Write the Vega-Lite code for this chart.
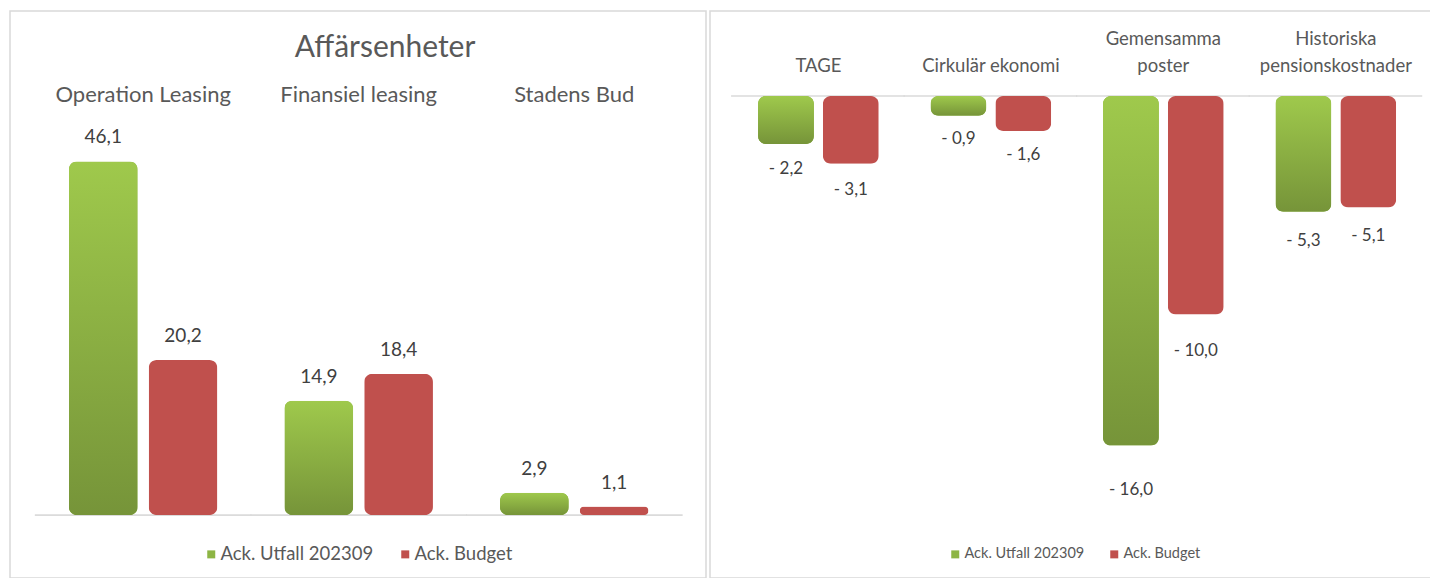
{
  "$schema": "https://vega.github.io/schema/vega-lite/v6.json",
  "padding": {"left": 9, "top": 10, "right": 0, "bottom": 0},
  "spacing": 2,
  "datasets": {
    "affar": [
      {"enhet": "Operation Leasing", "serie": "Ack. Utfall 202309", "value": 46.1},
      {"enhet": "Operation Leasing", "serie": "Ack. Budget", "value": 20.2},
      {"enhet": "Finansiel leasing", "serie": "Ack. Utfall 202309", "value": 14.9},
      {"enhet": "Finansiel leasing", "serie": "Ack. Budget", "value": 18.4},
      {"enhet": "Stadens Bud", "serie": "Ack. Utfall 202309", "value": 2.9},
      {"enhet": "Stadens Bud", "serie": "Ack. Budget", "value": 1.1}
    ],
    "ovrigt": [
      {"enhet": "TAGE", "serie": "Ack. Utfall 202309", "value": -2.2},
      {"enhet": "TAGE", "serie": "Ack. Budget", "value": -3.1},
      {"enhet": "Cirkulär ekonomi", "serie": "Ack. Utfall 202309", "value": -0.9},
      {"enhet": "Cirkulär ekonomi", "serie": "Ack. Budget", "value": -1.6},
      {"enhet": "Gemensamma poster", "serie": "Ack. Utfall 202309", "value": -16.0},
      {"enhet": "Gemensamma poster", "serie": "Ack. Budget", "value": -10.0},
      {"enhet": "Historiska pensionskostnader", "serie": "Ack. Utfall 202309", "value": -5.3},
      {"enhet": "Historiska pensionskostnader", "serie": "Ack. Budget", "value": -5.1}
    ]
  },
  "hconcat": [
    {
      "width": 696,
      "height": 567,
      "title": {"text": "Affärsenheter", "fontSize": 30, "fontWeight": "normal", "color": "#595959", "font": "Lato", "baseline": "alphabetic", "offset": -76, "dx": 27, "anchor": "middle"},
      "data": {"name": "affar"},
      "encoding": {
        "x": {
          "field": "enhet", "type": "nominal",
          "sort": ["Operation Leasing", "Finansiel leasing", "Stadens Bud"],
          "scale": {"paddingInner": 0.311, "paddingOuter": 0.27, "align": 0.506},
          "axis": {"orient": "top", "offset": -100, "title": null, "domain": false, "ticks": false, "grid": false, "labelPadding": 5, "labelFontSize": 22, "labelColor": "#595959", "labelFont": "Lato", "labelAngle": 0}
        },
        "y": {"field": "value", "type": "quantitative", "scale": {"domain": [-8.21, 65.71], "nice": false, "zero": false}, "axis": null}
      },
      "layer": [
        {
          "mark": {"type": "rule", "color": "#d9d9d9", "strokeWidth": 1.2},
          "encoding": {
            "x": {"field": "enhet", "type": "nominal", "bandPosition": -0.229},
            "x2": {"field": "enhet", "bandPosition": 1.229},
            "y": {"datum": 0, "type": "quantitative"}
          }
        },
        {
          "mark": {"type": "bar", "cornerRadius": 8},
          "encoding": {
            "xOffset": {"field": "serie", "type": "nominal", "sort": ["Ack. Utfall 202309", "Ack. Budget"], "scale": {"paddingInner": 0.138, "paddingOuter": 0}},
            "color": {
              "field": "serie", "type": "nominal", "sort": ["Ack. Utfall 202309", "Ack. Budget"],
              "scale": {"domain": ["Ack. Utfall 202309", "Ack. Budget"], "range": ["#8db544", "#c0504d"]},
              "legend": {"orient": "none", "legendX": 192, "legendY": 534, "direction": "horizontal", "title": null, "symbolType": "square", "symbolSize": 64, "symbolStrokeWidth": 0, "labelFontSize": 18.5, "labelFont": "Lato", "labelColor": "#595959", "columnPadding": 22, "labelOffset": 0}
            }
          }
        },
        {
          "transform": [{"filter": "datum.serie === 'Ack. Utfall 202309'"}],
          "mark": {"type": "bar", "cornerRadius": 8, "fill": {"gradient": "linear", "x1": 0, "y1": 0, "x2": 0, "y2": 1, "stops": [{"offset": 0, "color": "#9fc94c"}, {"offset": 1, "color": "#769439"}]}},
          "encoding": {
            "xOffset": {"field": "serie", "type": "nominal", "sort": ["Ack. Utfall 202309", "Ack. Budget"]}
          }
        },
        {
          "mark": {"type": "text", "baseline": "middle", "dy": -24, "fontSize": 19, "color": "#404040", "font": "Lato"},
          "encoding": {
            "xOffset": {"field": "serie", "type": "nominal", "sort": ["Ack. Utfall 202309", "Ack. Budget"]},
            "text": {"field": "value", "type": "quantitative", "format": ".1f"}
          }
        }
      ]
    },
    {
      "width": 722,
      "height": 567,
      "data": {"name": "ovrigt"},
      "encoding": {
        "x": {
          "field": "enhet", "type": "nominal",
          "sort": ["TAGE", "Cirkulär ekonomi", "Gemensamma poster", "Historiska pensionskostnader"],
          "scale": {"paddingInner": 0.30, "paddingOuter": 0.243, "align": 0.573},
          "axis": {"orient": "top", "offset": -85, "title": null, "domain": false, "ticks": false, "grid": false, "labelPadding": 48, "labelFontSize": 18.5, "labelColor": "#595959", "labelFont": "Lato", "labelAngle": 0, "labelLineHeight": 27,
            "labelExpr": "datum.label == 'Gemensamma poster' ? ['Gemensamma', 'poster'] : datum.label == 'Historiska pensionskostnader' ? ['Historiska', 'pensionskostnader'] : ['', datum.label]"}
        }
      },
      "layer": [
        {
          "mark": {"type": "rule", "color": "#d9d9d9", "strokeWidth": 1.2},
          "encoding": {
            "x": {"field": "enhet", "type": "nominal", "bandPosition": -0.223},
            "x2": {"field": "enhet", "bandPosition": 1.215},
            "y": {"datum": 0, "type": "quantitative", "scale": {"domain": [-22.06, 3.89], "nice": false, "zero": false}, "axis": null}
          }
        },
        {
          "mark": {"type": "bar", "cornerRadius": 8},
          "encoding": {
            "xOffset": {"field": "serie", "type": "nominal", "sort": ["Ack. Utfall 202309", "Ack. Budget"], "scale": {"paddingInner": 0.138, "paddingOuter": 0}},
            "y": {"field": "value", "type": "quantitative", "scale": {"domain": [-22.06, 3.89], "nice": false, "zero": false}, "axis": null},
            "color": {
              "field": "serie", "type": "nominal", "sort": ["Ack. Utfall 202309", "Ack. Budget"],
              "scale": {"domain": ["Ack. Utfall 202309", "Ack. Budget"], "range": ["#8db544", "#c0504d"]},
              "legend": {"orient": "none", "legendX": 238, "legendY": 536, "direction": "horizontal", "title": null, "symbolType": "square", "symbolSize": 64, "symbolStrokeWidth": 0, "labelFontSize": 14.5, "labelFont": "Lato", "labelColor": "#595959", "columnPadding": 22, "labelOffset": 2}
            }
          }
        },
        {
          "transform": [{"filter": "datum.serie === 'Ack. Utfall 202309'"}],
          "mark": {"type": "bar", "cornerRadius": 8, "fill": {"gradient": "linear", "x1": 0, "y1": 0, "x2": 0, "y2": 1, "stops": [{"offset": 0, "color": "#9fc94c"}, {"offset": 1, "color": "#769439"}]}},
          "encoding": {
            "xOffset": {"field": "serie", "type": "nominal", "sort": ["Ack. Utfall 202309", "Ack. Budget"]},
            "y": {"field": "value", "type": "quantitative", "scale": {"domain": [-22.06, 3.89], "nice": false, "zero": false}, "axis": null}
          }
        },
        {
          "mark": {"type": "text", "baseline": "middle", "fontSize": 17, "color": "#404040", "font": "Lato"},
          "encoding": {
            "xOffset": {"field": "serie", "type": "nominal", "sort": ["Ack. Utfall 202309", "Ack. Budget"]},
            "y": {"field": "value", "type": "quantitative", "scale": {"domain": [-19.76, 4.58], "nice": false, "zero": false}, "axis": null},
            "text": {"field": "value", "type": "quantitative", "format": ".1f"}
          }
        }
      ],
      "resolve": {"scale": {"y": "independent"}}
    }
  ],
  "resolve": {"scale": {"color": "independent", "xOffset": "independent"}, "legend": {"color": "independent"}},
  "config": {
    "font": "Lato",
    "view": {"stroke": "#d9d9d9", "strokeWidth": 1.5},
    "locale": {"number": {"decimal": ",", "thousands": " ", "grouping": [3], "currency": ["", " kr"], "minus": "- "}}
  }
}
